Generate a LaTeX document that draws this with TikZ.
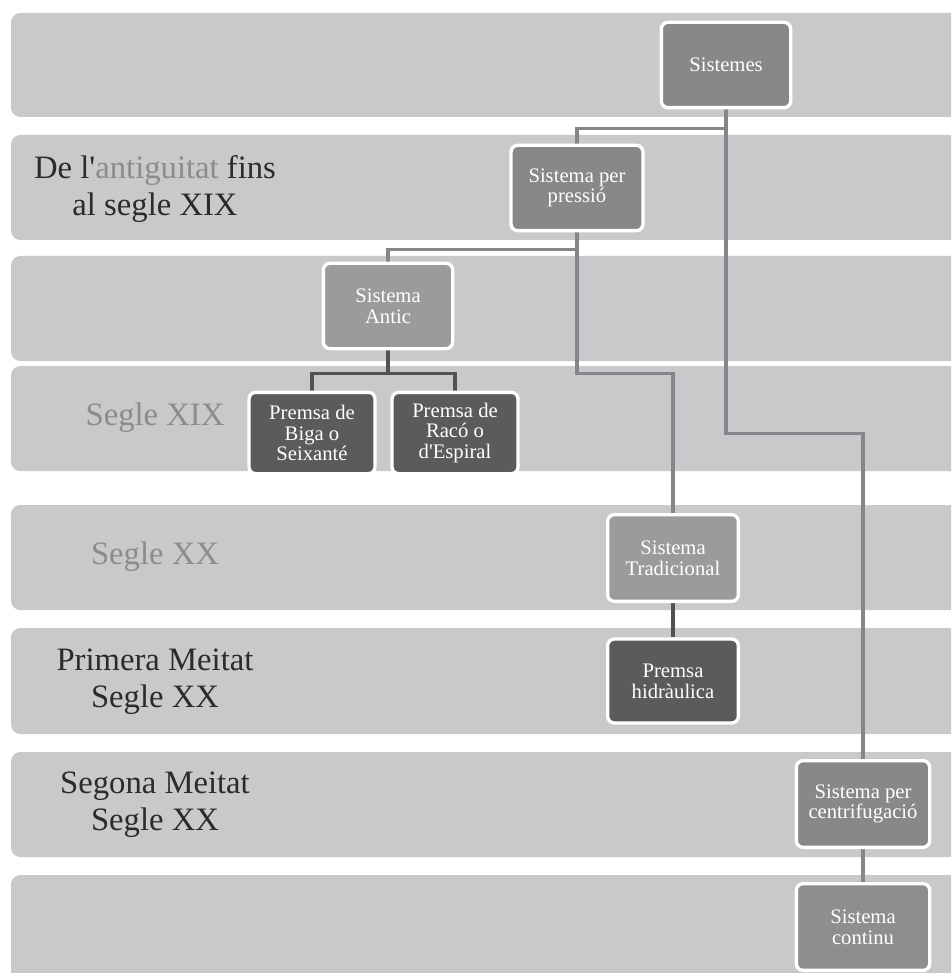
\documentclass[tikz,border=0pt]{standalone}
\usepackage{fontspec}
\setmainfont{Liberation Serif}
\usetikzlibrary{positioning}

\definecolor{bandgray}{HTML}{C9C9CB}
\definecolor{midgray}{HTML}{88888B}
\definecolor{lightgray}{HTML}{9B9B9E}
\definecolor{darkgray}{HTML}{5B5B5E}
\definecolor{wiregray}{HTML}{86868A}
\definecolor{wiredark}{HTML}{525255}
\definecolor{labeldark}{HTML}{2B2B2B}
\definecolor{labelgray}{HTML}{8C8C8C}

\pgfdeclarelayer{back}
\pgfdeclarelayer{wires}
\pgfsetlayers{back,wires,main}

\tikzset{
  band/.style={fill=bandgray, rounded corners=7pt},
  box/.style={draw=white, line width=2.5pt, rounded corners=5pt, text=white, align=center,
    inner sep=2pt, minimum width=97pt, minimum height=64pt, font=\fontsize{15.5}{15.5}\selectfont},
  premsa/.style={box, fill=darkgray, minimum width=94.5pt, minimum height=61pt},
  wire/.style={draw=wiregray, line width=2.7pt},
  darkwire/.style={draw=wiredark, line width=2.7pt},
  era/.style={align=center, text=labeldark, font=\fontsize{24.5}{28}\selectfont},
  eragray/.style={era, text=labelgray}
}

\begin{document}
\begin{tikzpicture}[x=0.75pt, y=-0.75pt]
\useasboundingbox (0,0) rectangle (951,973);

\begin{pgfonlayer}{back}
\begin{scope}
\clip (0,0) rectangle (951,973);
\fill[band] (11,13) rectangle (975,117);
\fill[band] (11,135) rectangle (975,240);
\fill[band] (11,256) rectangle (975,361);
\fill[band] (11,366) rectangle (975,471);
\fill[band] (11,505) rectangle (975,610);
\fill[band] (11,628) rectangle (975,734);
\fill[band] (11,752) rectangle (975,857);
\fill[band] (11,875) rectangle (975,995);
\end{scope}
\end{pgfonlayer}

\node(era1) [era] at (155,189) {De l\textquotesingle\textcolor{labelgray}{antiguitat} fins\\al segle XIX};
\node(era2) [eragray] at (155,418) {Segle XIX};
\node(era3) [eragray] at (155,557) {Segle XX};
\node(era4) [era] at (155,682) {Primera Meitat\\Segle XX};
\node(era5) [era] at (155,805) {Segona Meitat\\Segle XX};

\node(sys) [box, fill=midgray] at (726,65) {Sistemes};
\node(press) [box, fill=midgray, minimum width=99pt] at (577,188) {Sistema per\\pressió};
\node(antic) [box, fill=lightgray] at (388,306) {Sistema\\Antic};
\node(biga) [premsa] at (312,433) {Premsa de\\Biga o\\Seixanté};
\node(raco) [premsa] at (455,433) {Premsa de\\Racó o\\d\textquotesingle Espiral};
\node(trad) [box, fill=lightgray, minimum width=98pt, minimum height=65pt] at (673,558) {Sistema\\Tradicional};
\node(hidr) [box, fill=darkgray, minimum width=98pt, minimum height=63pt] at (673,681) {Premsa\\hidràulica};
\node(centr) [box, fill=midgray, minimum width=100pt, minimum height=65pt] at (863,804) {Sistema per\\centrifugació};
\node(cont) [box, fill=midgray!95!white, minimum width=100pt, minimum height=65pt] at (863,927) {Sistema\\continu};

\begin{pgfonlayer}{wires}
\draw[wire] (sys.south) -- ++(0,19) -| (press.north);
\draw[wire] (sys.south) -- ++(0,324) -| (centr.north);
\draw[wire] (press.south) -- ++(0,17) -| (antic.north);
\draw[wire] (press.south) -- ++(0,141) -| (trad.north);
\draw[darkwire] (antic.south) -- ++(0,23) -| (biga.north);
\draw[darkwire] (antic.south) -- ++(0,23) -| (raco.north);
\draw[darkwire] (trad.south) -- (hidr.north);
\draw[wire] (centr.south) -- (cont.north);
\end{pgfonlayer}
\end{tikzpicture}
\end{document}
